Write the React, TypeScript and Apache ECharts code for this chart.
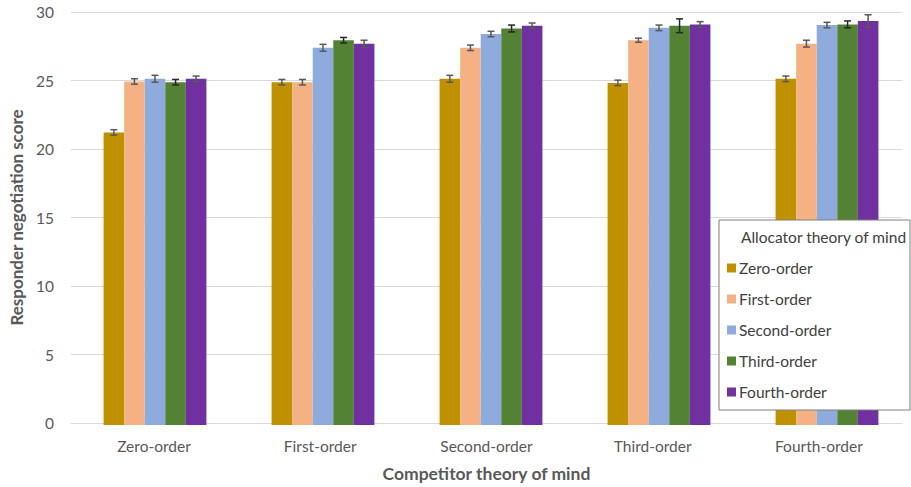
import React, { useEffect, useRef } from "react";
import * as echarts from "echarts";

const categories = ["Zero-order", "First-order", "Second-order", "Third-order", "Fourth-order"];
const seriesNames = ["Zero-order", "First-order", "Second-order", "Third-order", "Fourth-order"];
const colors = ["#BF9000", "#F4B183", "#8FAADC", "#548235", "#7030A0"];
const errColors = ["#595959", "#595959", "#595959", "#262626", "#595959"];

// values[seriesIndex][categoryIndex]
const zeroOrder = [21.25, 24.9, 25.15, 24.85, 25.15];
const firstOrder = [24.95, 24.9, 27.4, 27.95, 27.7];
const secondOrder = [25.15, 27.4, 28.4, 28.85, 29.05];
const thirdOrder = [24.9, 27.95, 28.8, 29.0, 29.1];
const fourthOrder = [25.15, 27.7, 29.0, 29.1, 29.35];
const values = [zeroOrder, firstOrder, secondOrder, thirdOrder, fourthOrder];

const errZero = [0.2, 0.2, 0.25, 0.2, 0.2];
const errFirst = [0.2, 0.2, 0.2, 0.15, 0.25];
const errSecond = [0.25, 0.25, 0.2, 0.2, 0.2];
const errThird = [0.2, 0.2, 0.25, 0.5, 0.25];
const errFourth = [0.2, 0.25, 0.2, 0.2, 0.45];
const errors = [errZero, errFirst, errSecond, errThird, errFourth];

const yTicks = { min: 0, max: 30, interval: 5 };

const FONT = "Lato, 'Open Sans', sans-serif";
const GAP = 0.388;

export default function App() {
  const ref = useRef<HTMLDivElement>(null);
  useEffect(() => {
    if (!ref.current) return;
    const chart = echarts.init(ref.current, null, { renderer: "svg" });
    const errData: any[] = [];
    values.forEach((vals, s) => {
      vals.forEach((v, c) => {
        errData.push([c, v, errors[s][c], s]);
      });
    });
    const barSeries = seriesNames.map((name, s) => ({
      name,
      type: "bar",
      xAxisIndex: 1,
      yAxisIndex: 1,
      data: values[s],
      itemStyle: { color: colors[s] },
      barGap: "0%",
      barCategoryGap: GAP * 100 + "%",
      z: 2,
    }));
    const option: any = {
      animation: false,
      textStyle: { fontFamily: FONT },
      grid: [
        { left: 64, right: 9, top: 12, bottom: 62, containLabel: false },
        { left: 71, right: -2, top: 12, bottom: 62, containLabel: false },
      ],
      xAxis: [
        {
          type: "category",
          gridIndex: 0,
          data: categories,
          name: "Competitor theory of mind",
          nameLocation: "middle",
          nameGap: 41,
          nameTextStyle: { fontSize: 17.5, fontWeight: "bold", color: "#595959", fontFamily: FONT },
          axisLine: { lineStyle: { color: "#D9D9D9" } },
          axisTick: { show: false },
          axisLabel: { fontSize: 15.5, color: "#595959", margin: 15, fontFamily: FONT },
        },
        {
          type: "category",
          gridIndex: 1,
          data: categories,
          show: false,
        },
      ],
      yAxis: [
        {
          type: "value",
          gridIndex: 0,
          min: yTicks.min,
          max: yTicks.max,
          interval: yTicks.interval,
          name: "Responder negotiation score",
          nameLocation: "middle",
          nameGap: 38,
          nameTextStyle: { fontSize: 17, fontWeight: "bold", color: "#595959", fontFamily: FONT },
          axisLine: { show: false },
          axisTick: { show: false },
          axisLabel: { fontSize: 15.5, color: "#595959", margin: 17, fontFamily: FONT },
          splitLine: { lineStyle: { color: "#D9D9D9" } },
        },
        {
          type: "value",
          gridIndex: 1,
          min: yTicks.min,
          max: yTicks.max,
          interval: yTicks.interval,
          show: false,
          splitLine: { show: false },
        },
      ],
      legend: {
        orient: "vertical",
        left: 722,
        top: 255,
        itemWidth: 9,
        itemHeight: 9,
        itemGap: 15,
        icon: "rect",
        data: seriesNames,
        textStyle: { fontSize: 15.5, color: "#404040", fontFamily: FONT, padding: [0, 0, 0, -2] },
        z: 6,
      },
      graphic: [
        {
          type: "rect",
          shape: { x: 719, y: 220, width: 191, height: 190 },
          style: { fill: "#fff", stroke: "#7F7F7F", lineWidth: 1 },
          z: 5,
        },
        {
          type: "text",
          x: 741,
          y: 237,
          style: {
            text: "Allocator theory of mind",
            fontSize: 15.5,
            fill: "#404040",
            fontFamily: FONT,
            verticalAlign: "middle",
          },
          z: 7,
        },
      ],
      series: [
        ...barSeries,
        {
          type: "custom",
          name: "errors",
          xAxisIndex: 1,
          yAxisIndex: 1,
          z: 3,
          data: errData,
          encode: { x: 0, y: 1 },
          renderItem: (params: any, api: any) => {
            const c = api.value(0);
            const v = api.value(1);
            const e = api.value(2);
            const s = api.value(3);
            const band = api.size([1, 0])[0];
            const barW = (band * (1 - GAP)) / 5;
            const center = api.coord([c, v]);
            const x = center[0] + (s - 2) * barW;
            const top = api.coord([c, v + e])[1];
            const bot = api.coord([c, v - e])[1];
            const cap = 3.5;
            const style = { stroke: errColors[s], lineWidth: 1.5 };
            return {
              type: "group",
              children: [
                { type: "line", shape: { x1: x, y1: top, x2: x, y2: bot }, style },
                { type: "line", shape: { x1: x - cap, y1: top, x2: x + cap, y2: top }, style },
                { type: "line", shape: { x1: x - cap, y1: bot, x2: x + cap, y2: bot }, style },
              ],
            };
          },
        },
      ],
    };
    chart.setOption(option);
    return () => chart.dispose();
  }, []);
  return <div ref={ref} style={{ width: 911, height: 487, position: "absolute", left: 0, top: 0 }} />;
}
